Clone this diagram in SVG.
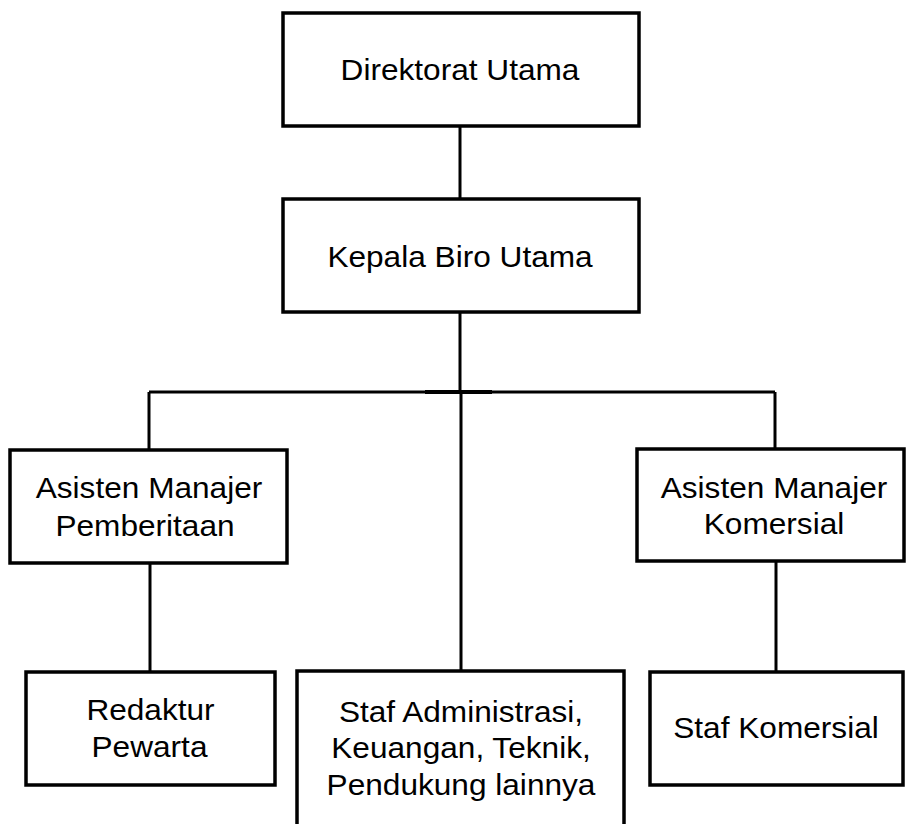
<svg xmlns="http://www.w3.org/2000/svg" width="906" height="824" viewBox="0 0 906 824">
  <style>
    .box { fill: #ffffff; stroke: #000000; stroke-width: 3.5; }
    .lbl { font-family: "Liberation Sans", Arial, sans-serif; font-size: 29px; fill: #000000; text-anchor: middle; }
    .wire { fill: none; stroke: #000000; stroke-width: 3; }
  </style>
  <rect width="906" height="824" fill="#ffffff"/>

  <g id="connectors">
    <line class="wire" x1="460" y1="126" x2="460" y2="199"/>
    <line class="wire" x1="460" y1="312" x2="460" y2="392"/>
    <line class="wire" x1="149" y1="392" x2="775" y2="392"/>
    <line x1="425" y1="392" x2="492" y2="392" stroke="#000" stroke-width="4"/>
    <line class="wire" x1="149" y1="392" x2="149" y2="450"/>
    <line class="wire" x1="775" y1="392" x2="775" y2="449"/>
    <line class="wire" x1="461" y1="392" x2="461" y2="671"/>
    <line class="wire" x1="150" y1="563" x2="150" y2="672"/>
    <line class="wire" x1="776" y1="561" x2="776" y2="672"/>
  </g>

  <!-- labels are Arial-metric text, widened slightly to the box lettering -->
  <g id="direktorat-utama">
    <rect class="box" x="283" y="13" width="356" height="113"/>
    <text class="lbl" transform="translate(460 80) scale(1.09 1)">Direktorat Utama</text>
  </g>

  <g id="kepala-biro-utama">
    <rect class="box" x="283" y="199" width="356" height="113"/>
    <text class="lbl" transform="translate(460 267) scale(1.09 1)">Kepala Biro Utama</text>
  </g>

  <g id="asisten-manajer-pemberitaan">
    <rect class="box" x="10" y="450" width="277" height="113"/>
    <text class="lbl" transform="translate(149 498) scale(1.09 1)">Asisten Manajer</text>
    <text class="lbl" transform="translate(145 536) scale(1.09 1)">Pemberitaan</text>
  </g>

  <g id="asisten-manajer-komersial">
    <rect class="box" x="637" y="449" width="267" height="112"/>
    <text class="lbl" transform="translate(774 498) scale(1.09 1)">Asisten Manajer</text>
    <text class="lbl" transform="translate(774 534) scale(1.09 1)">Komersial</text>
  </g>

  <g id="redaktur-pewarta">
    <rect class="box" x="26" y="672" width="249" height="113"/>
    <text class="lbl" transform="translate(150.5 720) scale(1.09 1)">Redaktur</text>
    <text class="lbl" transform="translate(149.5 757) scale(1.09 1)">Pewarta</text>
  </g>

  <g id="staf-administrasi">
    <rect class="box" x="297" y="671" width="327" height="170"/>
    <text class="lbl" transform="translate(461 722) scale(1.09 1)">Staf Administrasi,</text>
    <text class="lbl" transform="translate(461 758) scale(1.09 1)">Keuangan, Teknik,</text>
    <text class="lbl" transform="translate(461 795) scale(1.09 1)">Pendukung lainnya</text>
  </g>

  <g id="staf-komersial">
    <rect class="box" x="650" y="672" width="253" height="113"/>
    <text class="lbl" transform="translate(776 738) scale(1.09 1)">Staf Komersial</text>
  </g>
</svg>
